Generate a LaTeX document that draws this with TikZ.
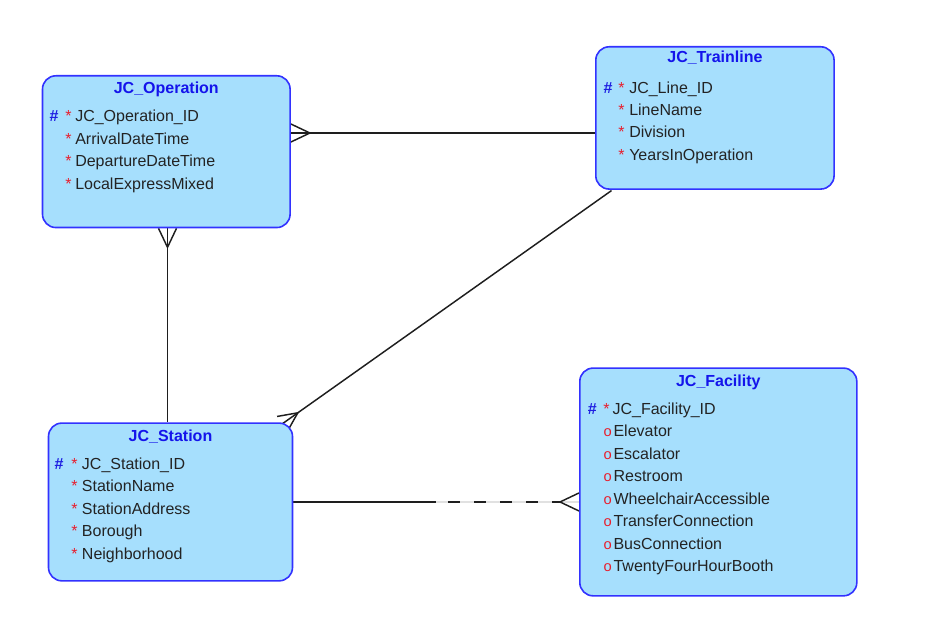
\documentclass[tikz,border=0pt]{standalone}
\usepackage{fontspec}
\setmainfont{Liberation Sans}
\usetikzlibrary{calc,backgrounds}

\definecolor{entfill}{RGB}{166,223,253}
\definecolor{entdraw}{RGB}{50,50,255}
\definecolor{enttitle}{RGB}{20,20,235}
\definecolor{keymark}{RGB}{30,30,225}
\definecolor{reqmark}{RGB}{232,30,45}
\definecolor{attrtext}{RGB}{35,35,35}
\definecolor{relline}{RGB}{30,30,30}
\definecolor{relshade}{RGB}{225,225,225}

\tikzset{
  entity/.style={draw=entdraw, fill=entfill, line width=1.2pt,
    rounded corners=10pt, inner sep=0pt, anchor=north west},
  etitle/.style={font=\bfseries\fontsize{12}{14}\selectfont, text=enttitle,
    anchor=base, inner sep=0pt},
  attr/.style={font=\fontsize{12}{14}\selectfont, text=attrtext,
    anchor=base west, inner sep=0pt},
  pkmark/.style={font=\bfseries\fontsize{12}{14}\selectfont, text=keymark,
    anchor=base west, inner sep=0pt},
  reqmark/.style={font=\fontsize{12}{14}\selectfont, text=reqmark,
    anchor=base west, inner sep=0pt},
  optmark/.style={font=\fontsize{11}{13}\selectfont, text=reqmark,
    anchor=base west, inner sep=0pt},
  rel/.style={draw=relline, line width=1.1pt},
}

% crow's foot at end #1 of a relationship line heading to #2
\newcommand\crowfoot[2]{%
  \draw[rel] ($(#1)!6.75pt!90:(#2)$) -- ($(#1)!14.25pt!(#2)$)
             -- ($(#1)!6.75pt!-90:(#2)$);}

\begin{document}
\begin{tikzpicture}[x=0.75pt,y=-0.75pt]
\useasboundingbox (0,0) rectangle (931,635);

% ---------- entities ----------
\node[entity, minimum width=185.7pt, minimum height=113.8pt] (op) at (41.7,75) {};
\node[entity, minimum width=178.7pt, minimum height=106.7pt] (tl) at (595,46) {};
\node[entity, minimum width=183pt,   minimum height=118.3pt] (st) at (47.7,422.3) {};
\node[entity, minimum width=207.75pt,minimum height=170.8pt] (fac) at (579,367.3) {};

% JC_Operation
\node[etitle] (opT) at ($(op.north)+(0,18.3)$) {JC\_Operation};
\node[pkmark]  (opK)  at (49.3,121.7) {\#};
\node[reqmark] (opR1) at (65,121.7) {*};
\node[attr]    (opA1) at (75,121.7) {JC\_Operation\_ID};
\node[reqmark] (opR2) at (65,144.2) {*};
\node[attr]    (opA2) at (75,144.2) {ArrivalDateTime};
\node[reqmark] (opR3) at (65,166.7) {*};
\node[attr]    (opA3) at (75,166.7) {DepartureDateTime};
\node[reqmark] (opR4) at (65,189.2) {*};
\node[attr]    (opA4) at (75,189.2) {LocalExpressMixed};

% JC_Trainline
\node[etitle] (tlT) at ($(tl.north)+(0,16.7)$) {JC\_Trainline};
\node[pkmark]  (tlK)  at (603.3,93.3) {\#};
\node[reqmark] (tlR1) at (618,93.3) {*};
\node[attr]    (tlA1) at (629,93.3) {JC\_Line\_ID};
\node[reqmark] (tlR2) at (618,115.5) {*};
\node[attr]    (tlA2) at (629,115.5) {LineName};
\node[reqmark] (tlR3) at (618,137.8) {*};
\node[attr]    (tlA3) at (629,137.8) {Division};
\node[reqmark] (tlR4) at (618,160) {*};
\node[attr]    (tlA4) at (629,160) {YearsInOperation};

% JC_Station
\node[etitle] (stT) at ($(st.north)+(0,18.7)$) {JC\_Station};
\node[pkmark]  (stK)  at (54.3,469) {\#};
\node[reqmark] (stR1) at (71,469) {*};
\node[attr]    (stA1) at (81.7,469) {JC\_Station\_ID};
\node[reqmark] (stR2) at (71,491.5) {*};
\node[attr]    (stA2) at (81.7,491.5) {StationName};
\node[reqmark] (stR3) at (71,514) {*};
\node[attr]    (stA3) at (81.7,514) {StationAddress};
\node[reqmark] (stR4) at (71,536.5) {*};
\node[attr]    (stA4) at (81.7,536.5) {Borough};
\node[reqmark] (stR5) at (71,559) {*};
\node[attr]    (stA5) at (81.7,559) {Neighborhood};

% JC_Facility
\node[etitle] (facT) at ($(fac.north)+(0,18.7)$) {JC\_Facility};
\node[pkmark]  (facK)  at (587.7,414) {\#};
\node[reqmark] (facR1) at (603,414) {*};
\node[attr]    (facA1) at (612.3,414) {JC\_Facility\_ID};
\node[optmark] (facO2) at (603.3,436.5) {o};
\node[attr]    (facA2) at (613.3,436.5) {Elevator};
\node[optmark] (facO3) at (603.3,459) {o};
\node[attr]    (facA3) at (613.3,459) {Escalator};
\node[optmark] (facO4) at (603.3,481.5) {o};
\node[attr]    (facA4) at (613.3,481.5) {Restroom};
\node[optmark] (facO5) at (603.3,504) {o};
\node[attr]    (facA5) at (613.3,504) {WheelchairAccessible};
\node[optmark] (facO6) at (603.3,526.5) {o};
\node[attr]    (facA6) at (613.3,526.5) {TransferConnection};
\node[optmark] (facO7) at (603.3,549) {o};
\node[attr]    (facA7) at (613.3,549) {BusConnection};
\node[optmark] (facO8) at (603.3,571.5) {o};
\node[attr]    (facA8) at (613.3,571.5) {TwentyFourHourBooth};

% ---------- relationships (behind the entities) ----------
\begin{pgfonlayer}{background}
  % JC_Operation >--- JC_Trainline
  \coordinate (ot1) at (op.east |- 0,133);
  \coordinate (ot2) at (tl.west |- 0,133);
  \draw[rel] (ot1) -- (ot2);
  \crowfoot{ot1}{ot2}

  % JC_Operation >--- JC_Station
  \coordinate (os1) at (167.5,0 |- op.south);
  \coordinate (os2) at (167.5,0 |- st.north);
  \draw[rel] (os1) -- (os2);
  \crowfoot{os1}{os2}

  % JC_Trainline ---< JC_Station
  \coordinate (ts1) at ($(tl.south west)+(16.5,0.7)$);
  \coordinate (ts2) at ($(st.north east)+(-11,1.5)$);
  \draw[rel] (ts1) -- (ts2);
  \crowfoot{ts2}{ts1}

  % JC_Station --- - - -< JC_Facility (optional side dashed)
  \coordinate (sf1) at (st.east);
  \coordinate (sf2) at (fac.west |- st.east);
  \coordinate (sfm) at ($(sf1)!0.5!(sf2)$);
  \coordinate (sfa) at ($(sf2)!14.25pt!(sf1)$);
  \draw[rel] (sf1) -- (sfm);
  \draw[draw=relshade, line width=1.1pt] (sfm) -- (sf2);
  \draw[rel, dash pattern=on 9pt off 10.5pt, dash phase=10.5pt] (sfm) -- (sfa);
  \crowfoot{sf2}{sf1}
\end{pgfonlayer}
\end{tikzpicture}
\end{document}
